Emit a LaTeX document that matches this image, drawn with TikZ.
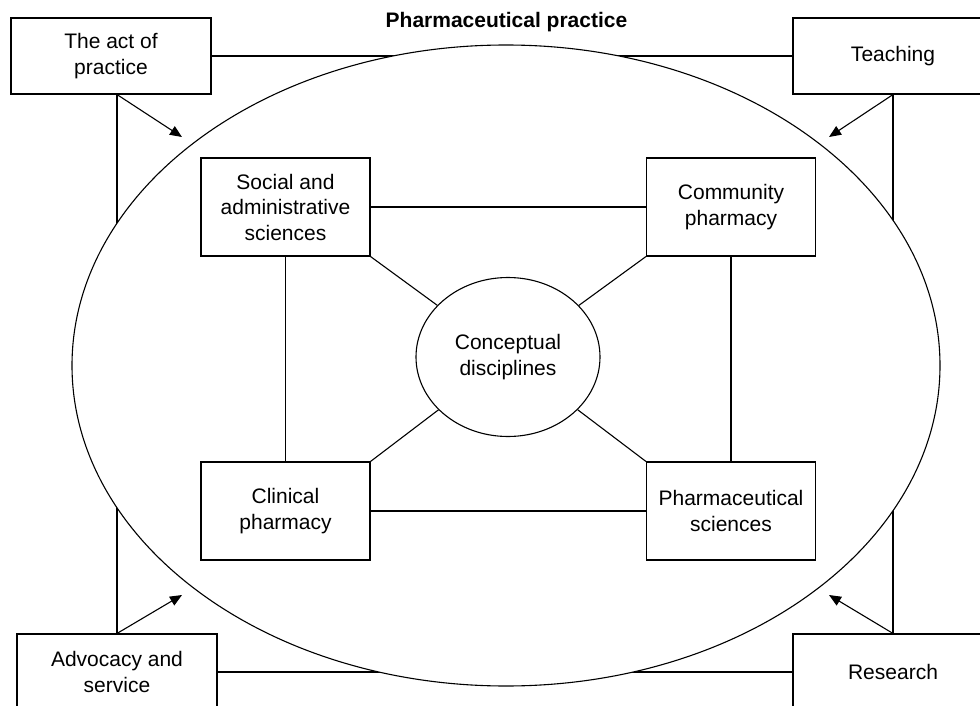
\documentclass[tikz,border=0pt]{standalone}
\usepackage{fontspec}
\setmainfont{Liberation Sans}
\usetikzlibrary{shapes.geometric, arrows.meta, calc}

\begin{document}
\begin{tikzpicture}[x = 1pt, y = -1pt, line width = 1.1pt,
  every node/.style = {font = \fontsize{21}{25.5}\selectfont, align = center},
  box/.style = {draw, fill = white, minimum width = 169pt, minimum height = 98pt, inner sep = 0pt},
  outbox/.style = {draw, fill = white, minimum width = 200pt, minimum height = 76pt, inner sep = 0pt},
  arr/.style = {-{Triangle[length = 12pt, width = 10pt]}}]
\useasboundingbox (0,0) rectangle (980,706);
\node[outbox] at (111,56) (a1) {The act of\\practice};
\node[outbox] at (893,56) (a2) {Teaching};
\node[outbox] at (117,672) (a3) {Advocacy and\\service};
\node[outbox] at (893,672) (a4) {Research};
\coordinate (t1) at (182,137);
\coordinate (t2) at (829,137);
\coordinate (t3) at (182,595);
\coordinate (t4) at (829,595);
\draw (a1) -- (a2);
\draw (a3) -- (a4);
\draw (a3.north |- a1.south) -- (a3.north);
\draw (a2.south) -- (a4.north);
\draw[arr] (a3.north |- a1.south) -- (t1);
\draw[arr] (a2.south) -- (t2);
\draw[arr] (a3.north) -- (t3);
\draw[arr] (a4.north) -- (t4);
% the practice ellipse covers the lines behind it
\draw[fill = white] (506,365.5) ellipse [x radius = 434pt, y radius = 320.5pt];
\node[font = \fontsize{21}{25.5}\selectfont\bfseries] at (506.5,22) (p0) {Pharmaceutical practice};
\node[box] at (285.5,207) (b1) {Social and\\administrative\\sciences};
\node[box] at (731,207) (b2) {Community\\pharmacy};
\node[box] at (285.5,511) (b3) {Clinical\\pharmacy};
\node[box] at (731,511) (b4) {Pharmaceutical\\sciences};
\node[draw, ellipse, minimum width = 184pt, minimum height = 159pt, inner sep = 0pt] at (508,357) (b0) {Conceptual\\disciplines};
\draw (b1) -- (b2);
\draw (b3) -- (b4);
\draw (b1) -- (b3);
\draw (b2) -- (b4);
\draw (b1.south east) -- (b0);
\draw (b2.south west) -- (b0);
\draw (b3.north east) -- (b0);
\draw (b4.north west) -- (b0);
\end{tikzpicture}
\end{document}
